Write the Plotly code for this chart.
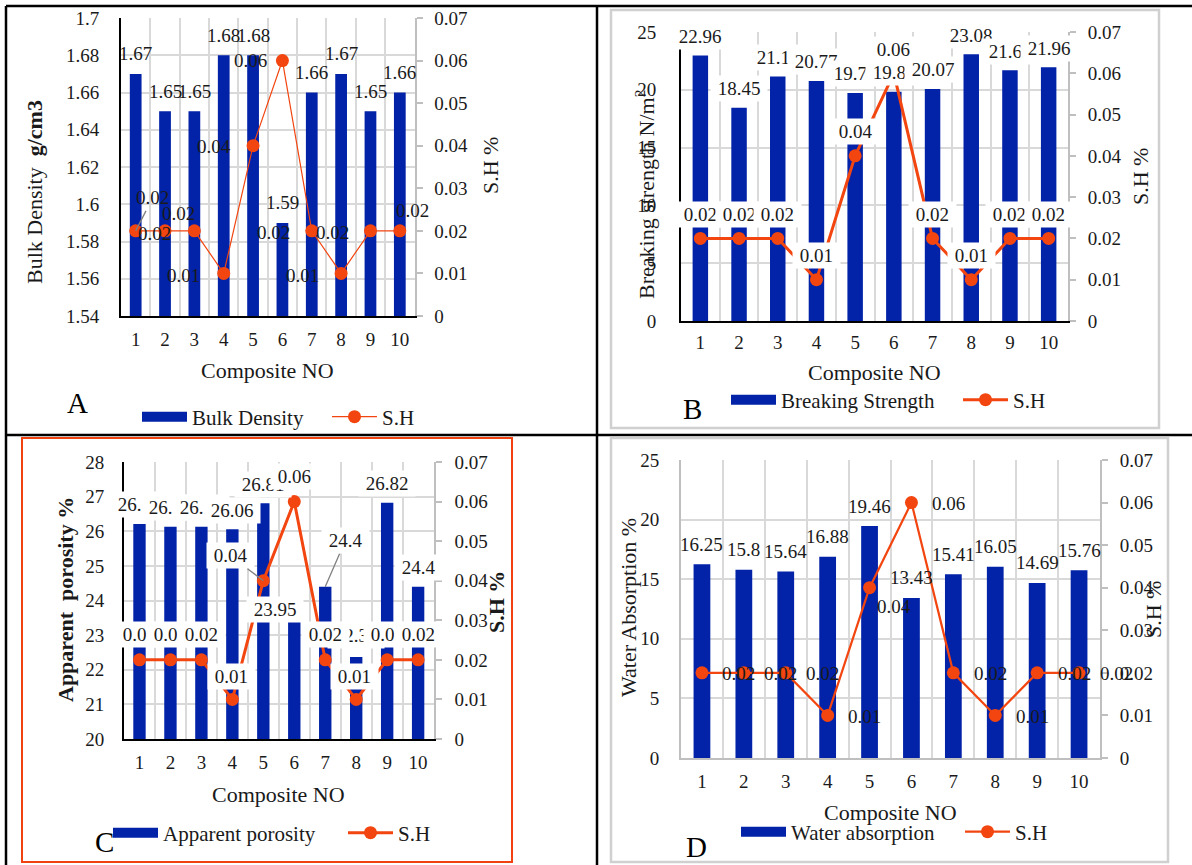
import plotly.graph_objects as go

# ---------------- data ----------------
composite_no = [1, 2, 3, 4, 5, 6, 7, 8, 9, 10]
sh_values = [0.02, 0.02, 0.02, 0.01, 0.04, 0.06, 0.02, 0.01, 0.02, 0.02]
bulk_density = [1.67, 1.65, 1.65, 1.68, 1.68, 1.59, 1.66, 1.67, 1.65, 1.66]
breaking_strength = [22.96, 18.45, 21.14, 20.77, 19.73, 19.84, 20.07, 23.08, 21.69, 21.96]
apparent_porosity = [26.21, 26.13, 26.13, 26.06, 26.81, 23.95, 24.4, 22.37, 26.82, 24.4]
water_absorption = [16.25, 15.8, 15.64, 16.88, 19.46, 13.43, 15.41, 16.05, 14.69, 15.76]

# ---------------- styling / layout ----------------
W, H = 1192, 865
FONT = "Liberation Serif"
BAR_COLOR = "#0222A8"
LINE_COLOR = "#F2450F"
GRID = "#D9D9D9"
AXGRAY = "#BFBFBF"
TXT = "#1A1A1A"


def fx(p):
    return p / W


def fy(p):
    return 1 - p / H


# label offsets in pixels (ax, ay) per point
A_BAR_OFF = [(0, -20)] * 10
A_SH_OFF = [(17, -33), (13, -17), (-40, 3), (-40, 2), (-39, 1), (-32, 0),
            (-38, 2), (-39, 2), (-38, 2), (13, -20)]
A_SH_LEADER = [True] + [False] * 9
B_BAR_OFF = [(0, -19)] * 10
B_SH_OFF = [(0, -24)] * 10
C_BAR_OFF = [(0, -19), (0, -19), (0, -19), (0, -19), (0, -19), (-19, 7),
             (20, -46), (0, -21), (0, -19), (0, -19)]
C_BAR_LEADER = [False] * 6 + [True] + [False] * 3
C_SH_OFF = [(0, -25), (0, -25), (0, -25), (-1, -23), (-33, -25), (0, -25),
            (0, -25), (-2, -23), (0, -25), (0, -25)]
C_SH_LEADER = [False] * 4 + [True] + [False] * 5
D_BAR_OFF = [(0, -20)] * 10
D_SH_OFF = [(37, 1)] * 4 + [(24, 19)] + [(37, 1)] * 5

panels = [
    dict(bars=bulk_density, bar_name="Bulk Density", box=(121, 414.5, 18, 316),
         yrange=(1.54, 1.70), dtick=0.02, left_line="black", bottom_line="black",
         line_w=1.2, bar_off=A_BAR_OFF, bar_leader=[False] * 10, bar_bg=False,
         sh_off=A_SH_OFF, sh_leader=A_SH_LEADER, sh_bg=False,
         ytitle="Bulk Density\u00a0\u00a0<b>g/cm3</b>", ytitle_pos=(34, 192),
         rtitle="S.H %", rtitle_pos=(490, 166), xtitle_y=370,
         letter="A", letter_pos=(77, 403),
         legend=dict(x=137, y=417, ew=130), lstand=16, rstand=8, xstand=5),
    dict(bars=breaking_strength, bar_name="Breaking Strength", box=(681, 1068, 32, 321),
         yrange=(0, 25), dtick=5, left_line="black", bottom_line="black",
         line_w=3, bar_off=B_BAR_OFF, bar_leader=[False] * 10, bar_bg=True,
         sh_off=B_SH_OFF, sh_leader=[False] * 10, sh_bg=True,
         ytitle="Breaking strength N/m<sup>2</sup>", ytitle_pos=(645, 195),
         rtitle="S.H %", rtitle_pos=(1141, 177), xtitle_y=372,
         letter="B", letter_pos=(692, 409),
         legend=dict(x=726, y=400, ew=172), lstand=19, rstand=8, xstand=3),
    dict(bars=apparent_porosity, bar_name="Apparent porosity", box=(124, 433.6, 462, 739),
         yrange=(20, 28), dtick=1, left_line="black", bottom_line="black",
         line_w=3, bar_off=C_BAR_OFF, bar_leader=C_BAR_LEADER, bar_bg=True,
         sh_off=C_SH_OFF, sh_leader=C_SH_LEADER, sh_bg=True,
         ytitle="<b>Apparent\u00a0\u00a0porosity %</b>", ytitle_pos=(65, 600),
         rtitle="<b>S.H %</b>", rtitle_pos=(496, 602), xtitle_y=794,
         letter="C", letter_pos=(104, 842),
         legend=dict(x=108, y=833, ew=175), lstand=14, rstand=9, xstand=5),
    dict(bars=water_absorption, bar_name="Water absorption", box=(681, 1100, 460, 758),
         yrange=(0, 25), dtick=5, left_line=AXGRAY, bottom_line=AXGRAY,
         line_w=2.2, bar_off=D_BAR_OFF, bar_leader=[False] * 10, bar_bg=False,
         sh_off=D_SH_OFF, sh_leader=[False] * 10, sh_bg=False,
         ytitle="Water Absorption %", ytitle_pos=(628, 608),
         rtitle="S.H %", rtitle_pos=(1153, 610), xtitle_y=812,
         letter="D", letter_pos=(697, 847),
         legend=dict(x=736, y=832, ew=164), lstand=16, rstand=8, xstand=5),
]

fig = go.Figure()
layout = dict(width=W, height=H, margin=dict(l=0, r=0, t=0, b=0, autoexpand=False),
              paper_bgcolor="white", plot_bgcolor="white", bargap=0.6,
              showlegend=True, font=dict(family=FONT, size=19, color=TXT))
annotations = []
tickfont = dict(family=FONT, size=19, color=TXT)
minor_vals = [c + 0.5 for c in composite_no[:-1]]


def label(xref, yref, x, y, text, off, leader, bg):
    t = "\u00a0" + text + "\u00a0" if bg else text
    return dict(xref=xref, yref=yref, x=x, y=y, text=t, showarrow=True,
                ax=off[0], ay=off[1], arrowhead=0,
                arrowwidth=1.3 if leader else 0.1,
                arrowcolor="#808080" if leader else "rgba(0,0,0,0)",
                font=dict(family=FONT, size=19, color=TXT),
                bgcolor="white" if bg else "rgba(0,0,0,0)", borderpad=2)


for i, p in enumerate(panels):
    xn = "x" if i == 0 else f"x{i + 1}"
    yl = f"y{2 * i + 1}" if i > 0 else "y"
    yr = f"y{2 * i + 2}"
    lg = "legend" if i == 0 else f"legend{i + 1}"
    x0, x1, y0, y1 = p["box"]

    fig.add_trace(go.Bar(x=composite_no, y=p["bars"], name=p["bar_name"],
                         marker=dict(color=BAR_COLOR, line=dict(width=0)),
                         xaxis=xn, yaxis=yl, showlegend=False))
    # legend-only swatch (wide bar-like key as in the reference)
    fig.add_trace(go.Scatter(x=[None], y=[None], name=p["bar_name"], mode="lines",
                             line=dict(color=BAR_COLOR, width=11),
                             xaxis=xn, yaxis=yl, legend=lg))
    fig.add_trace(go.Scatter(x=composite_no, y=sh_values, name="S.H", mode="lines+markers",
                             line=dict(color=LINE_COLOR, width=p["line_w"]),
                             marker=dict(color=LINE_COLOR, size=13),
                             xaxis=xn, yaxis=yr, legend=lg))

    xkey = "xaxis" if i == 0 else f"xaxis{i + 1}"
    ylkey = "yaxis" if i == 0 else f"yaxis{2 * i + 1}"
    yrkey = f"yaxis{2 * i + 2}"
    layout[xkey] = dict(domain=[fx(x0), fx(x1)], anchor=yl, range=[0.5, 10.5],
                        tickmode="array", tickvals=composite_no,
                        ticktext=[str(c) for c in composite_no], showgrid=False,
                        minor=dict(tickmode="array", tickvals=minor_vals, showgrid=True,
                                   gridcolor=GRID, gridwidth=1.5, ticks=""),
                        showline=True, linecolor=p["bottom_line"], linewidth=2,
                        ticks="", tickfont=tickfont, ticklabelstandoff=p["xstand"],
                        zeroline=False, fixedrange=True)
    layout[ylkey] = dict(domain=[fy(y1), fy(y0)], anchor=xn, range=list(p["yrange"]),
                         dtick=p["dtick"], tick0=p["yrange"][0], showgrid=True,
                         gridcolor=GRID, gridwidth=1.5, showline=True,
                         linecolor=p["left_line"], linewidth=2, ticks="",
                         tickfont=tickfont, ticklabelstandoff=p["lstand"], zeroline=False)
    layout[yrkey] = dict(overlaying=yl, anchor=xn, side="right", range=[0, 0.07],
                         dtick=0.01, tick0=0, showgrid=False, showline=True,
                         linecolor=AXGRAY, linewidth=2, ticks="outside", ticklen=6,
                         tickcolor=AXGRAY, tickwidth=2, tickfont=tickfont,
                         ticklabelstandoff=p["rstand"], zeroline=False)
    lgd = p["legend"]
    layout[lg] = dict(x=fx(lgd["x"]), y=fy(lgd["y"]), xanchor="left", yanchor="middle",
                      orientation="h", bgcolor="rgba(0,0,0,0)",
                      font=dict(family=FONT, size=21, color=TXT),
                      entrywidth=lgd["ew"], entrywidthmode="pixels",
                      itemwidth=45, tracegroupgap=0)

    # data labels: bars first, then S.H
    for c, v, off, ld in zip(composite_no, p["bars"], p["bar_off"], p["bar_leader"]):
        annotations.append(label(xn, yl, c, v, f"{v:g}", off, ld, p["bar_bg"]))
    for c, v, off, ld in zip(composite_no, sh_values, p["sh_off"], p["sh_leader"]):
        annotations.append(label(xn, yr, c, v, f"{v:g}", off, ld, p["sh_bg"]))

    # titles
    annotations.append(dict(xref="paper", yref="paper", x=fx(p["ytitle_pos"][0]),
                            y=fy(p["ytitle_pos"][1]), text=p["ytitle"], textangle=-90,
                            showarrow=False, xanchor="center", yanchor="middle",
                            font=dict(family=FONT, size=22, color=TXT)))
    annotations.append(dict(xref="paper", yref="paper", x=fx(p["rtitle_pos"][0]),
                            y=fy(p["rtitle_pos"][1]), text=p["rtitle"], textangle=-90,
                            showarrow=False, xanchor="center", yanchor="middle",
                            font=dict(family=FONT, size=22, color=TXT)))
    annotations.append(dict(xref="paper", yref="paper", x=fx((x0 + x1) / 2),
                            y=fy(p["xtitle_y"]), text="Composite NO", showarrow=False,
                            xanchor="center", yanchor="middle",
                            font=dict(family=FONT, size=22, color=TXT)))
    annotations.append(dict(xref="paper", yref="paper", x=fx(p["letter_pos"][0]),
                            y=fy(p["letter_pos"][1]), text=p["letter"], showarrow=False,
                            xanchor="center", yanchor="middle",
                            font=dict(family=FONT, size=29, color="black")))

layout["annotations"] = annotations


def seg(xa, ya, xb, yb, color, width):
    return dict(type="line", xref="paper", yref="paper", x0=fx(xa), y0=fy(ya),
                x1=fx(xb), y1=fy(yb), line=dict(color=color, width=width), layer="above")


def rect(xa, ya, xb, yb, color, width):
    return dict(type="rect", xref="paper", yref="paper", x0=fx(xa), y0=fy(ya),
                x1=fx(xb), y1=fy(yb), line=dict(color=color, width=width),
                fillcolor="rgba(0,0,0,0)", layer="above")


layout["shapes"] = [
    seg(6, 6, 1192, 6, "black", 2.5),
    seg(6, 6, 6, 865, "black", 2.5),
    seg(597, 6, 597, 865, "black", 2.5),
    seg(6, 435, 1192, 435, "black", 2.5),
    rect(611, 10, 1159, 428, "#D0D0D0", 2.5),
    rect(22, 438, 512, 862, "#F0410F", 2),
    rect(611, 438, 1168, 862, "#D0D0D0", 2.5),
]

fig.update_layout(**layout)
fig.write_html(
    "out.html",
    config={"displayModeBar": False},
    post_script=(
        "document.body.style.margin='0';document.body.style.overflow='hidden';"
        "document.documentElement.style.overflow='hidden';"
    ),
)
